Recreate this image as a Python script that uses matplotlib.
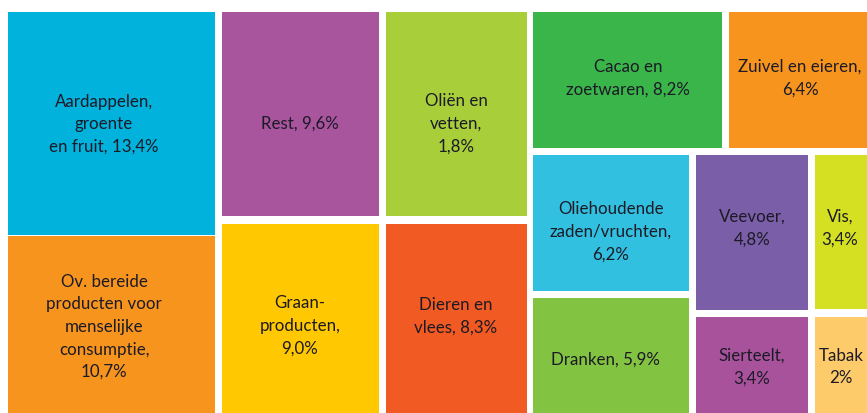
import matplotlib
matplotlib.use("Agg")
import matplotlib.pyplot as plt
from matplotlib.patches import Rectangle

# ---- data ----
categories = ["Aardappelen,\ngroente\nen fruit", "Ov. bereide\nproducten voor\nmenselijke\nconsumptie",
              "Rest", "Graan-\nproducten", "Oliën en\nvetten", "Dieren en\nvlees",
              "Cacao en\nzoetwaren", "Zuivel en eieren", "Oliehoudende\nzaden/vruchten",
              "Dranken", "Veevoer", "Vis", "Sierteelt", "Tabak"]
values = [13.4, 10.7, 9.6, 9.0, 1.8, 8.3, 8.2, 6.4, 6.2, 5.9, 4.8, 3.4, 3.4, 2]
decimals = [1, 1, 1, 1, 1, 1, 1, 1, 1, 1, 1, 1, 1, 0]
separators = [", ", ",\n", ", ", ",\n", ",\n", ", ", ", ", ",\n", ",\n", ", ", ",\n", ",\n", ",\n", "\n"]

# ---- layout (pixel space, y from top) ----
boxes = [  # x0, y0, x1, y1
    (8, 12, 215, 235), (8, 236, 215, 413),
    (222, 12, 379, 216), (222, 224, 379, 413),
    (386, 12, 527, 216), (386, 224, 527, 413),
    (533, 12, 722, 148), (729, 12, 867, 148),
    (533, 155, 689, 291), (533, 298, 689, 413),
    (696, 155, 808, 310), (815, 155, 867, 309),
    (696, 317, 808, 413), (815, 317, 867, 413),
]
label_pos = [
    (104, 124), (104, 327), (300, 124), (300, 326), (456, 124), (456, 316),
    (628, 78), (800, 78), (611, 232), (605, 360), (752, 228), (840, 228),
    (752, 367), (841, 367),
]
colors = ["#00b2dc", "#f7941d", "#a9559e", "#ffc800", "#a8cf3a", "#f15a22",
          "#39b54a", "#f7941d", "#31c0df", "#82c341", "#7a5ea7", "#d5e023",
          "#a8529c", "#fecb6a"]

fig = plt.figure(figsize=(8.67, 4.13), dpi=100)
ax = fig.add_axes([0, 0, 1, 1])
ax.set_xlim(0, 867)
ax.set_ylim(413, 0)
ax.axis("off")

for cat, v, d, sep, (x0, y0, x1, y1), (lx, ly), c in zip(
        categories, values, decimals, separators, boxes, label_pos, colors):
    ax.add_patch(Rectangle((x0, y0), x1 - x0, y1 - y0, facecolor=c, edgecolor="none"))
    vt = f"{v:.{d}f}".replace(".", ",") + "%"
    ax.text(lx, ly, cat + sep + vt, ha="center", va="center", multialignment="center",
            fontsize=12.2, family="Lato", color="#1c1a26", linespacing=1.5)

fig.savefig("out.png", dpi=100)
